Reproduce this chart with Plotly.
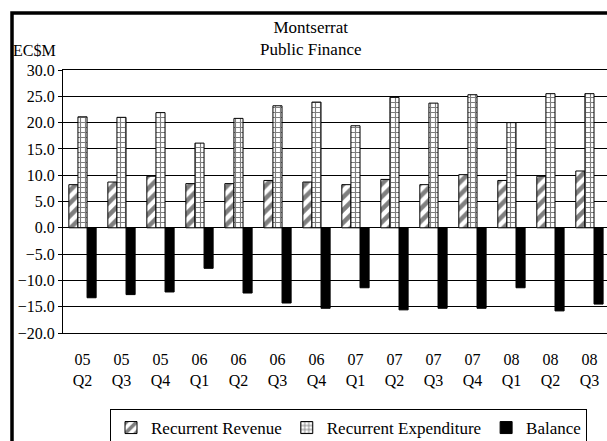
import plotly.graph_objects as go

# Quarterly public finance data, Montserrat (EC$ millions)
quarters = ["05<br>Q2", "05<br>Q3", "05<br>Q4", "06<br>Q1", "06<br>Q2", "06<br>Q3", "06<br>Q4",
            "07<br>Q1", "07<br>Q2", "07<br>Q3", "07<br>Q4", "08<br>Q1", "08<br>Q2", "08<br>Q3"]
recurrent_revenue = [8.2, 8.7, 9.8, 8.4, 8.4, 9.0, 8.7, 8.2, 9.2, 8.2, 10.1, 9.0, 9.8, 10.8]
recurrent_expenditure = [21.1, 21.0, 21.9, 16.1, 20.8, 23.2, 23.9, 19.4, 24.8, 23.7, 25.3, 20.0, 25.5, 25.5]
balance = [-13.3, -12.7, -12.2, -7.7, -12.4, -14.3, -15.3, -11.4, -15.6, -15.3, -15.3, -11.4, -15.8, -14.5]

y_ticks = [30, 25, 20, 15, 10, 5, 0, -5, -10, -15, -20]

FONT = "Liberation Serif, Times New Roman, serif"
W, H = 607, 441
ML, MT, MB = 63, 70, 108
PW = W - ML
PH = H - MT - MB


def px_x(px):
    return (px - ML) / PW


def px_y(py):
    return (H - MB - py) / PH


fig = go.Figure()
fig.add_trace(go.Bar(
    name="Recurrent Revenue", x=quarters, y=recurrent_revenue,
    marker=dict(color="white", line=dict(color="black", width=1),
                pattern=dict(shape="/", fgcolor="black", bgcolor="white", size=9, solidity=0.5)),
))
fig.add_trace(go.Bar(
    name="Recurrent Expenditure", x=quarters, y=recurrent_expenditure,
    marker=dict(color="white", line=dict(color="black", width=1),
                pattern=dict(shape="+", fgcolor="black", bgcolor="white", size=5, solidity=0.4)),
))
fig.add_trace(go.Bar(
    name="Balance", x=quarters, y=balance,
    marker=dict(color="black", line=dict(color="black", width=1)),
))

fig.update_layout(
    width=W, height=H,
    margin=dict(l=ML, r=0, t=MT, b=MB, autoexpand=False),
    paper_bgcolor="white", plot_bgcolor="white",
    barmode="group", bargap=0.3, bargroupgap=0,
    font=dict(family=FONT, size=16, color="black"),
    showlegend=True,
    legend=dict(orientation="h", x=px_x(110), xanchor="left", y=px_y(409), yanchor="top",
                bordercolor="black", borderwidth=1, bgcolor="white",
                font=dict(family=FONT, size=17, color="black"), traceorder="normal"),
    xaxis=dict(range=[-0.5, 13.45], showgrid=False, showline=True, mirror=True,
               linecolor="black", linewidth=1, ticks="", tickangle=0,
               ticklabelstandoff=12, tickfont=dict(family=FONT, size=16, color="black")),
    yaxis=dict(range=[-20, 30], tickvals=y_ticks, tickformat=".1f", showgrid=True,
               gridcolor="black", gridwidth=1, zeroline=True, zerolinecolor="black",
               zerolinewidth=1, showline=True, linecolor="black", linewidth=1,
               ticks="outside", ticklen=4, tickcolor="black",
               tickfont=dict(family=FONT, size=16, color="black")),
    annotations=[
        dict(text="Montserrat<br>Public Finance", xref="paper", yref="paper",
             x=px_x(311), y=px_y(38.5), xanchor="center", yanchor="middle",
             showarrow=False, font=dict(family=FONT, size=17, color="black")),
        dict(text="EC$M", xref="paper", yref="paper", x=px_x(58), y=px_y(50),
             xanchor="right", yanchor="middle", showarrow=False,
             font=dict(family=FONT, size=16, color="black")),
    ],
    shapes=[
        dict(type="rect", xref="paper", yref="paper", x0=px_x(12), x1=px_x(700),
             y0=px_y(600), y1=px_y(13), line=dict(color="black", width=3.5),
             fillcolor="rgba(0,0,0,0)", layer="above"),
    ],
)

fig.write_html("out.html")
